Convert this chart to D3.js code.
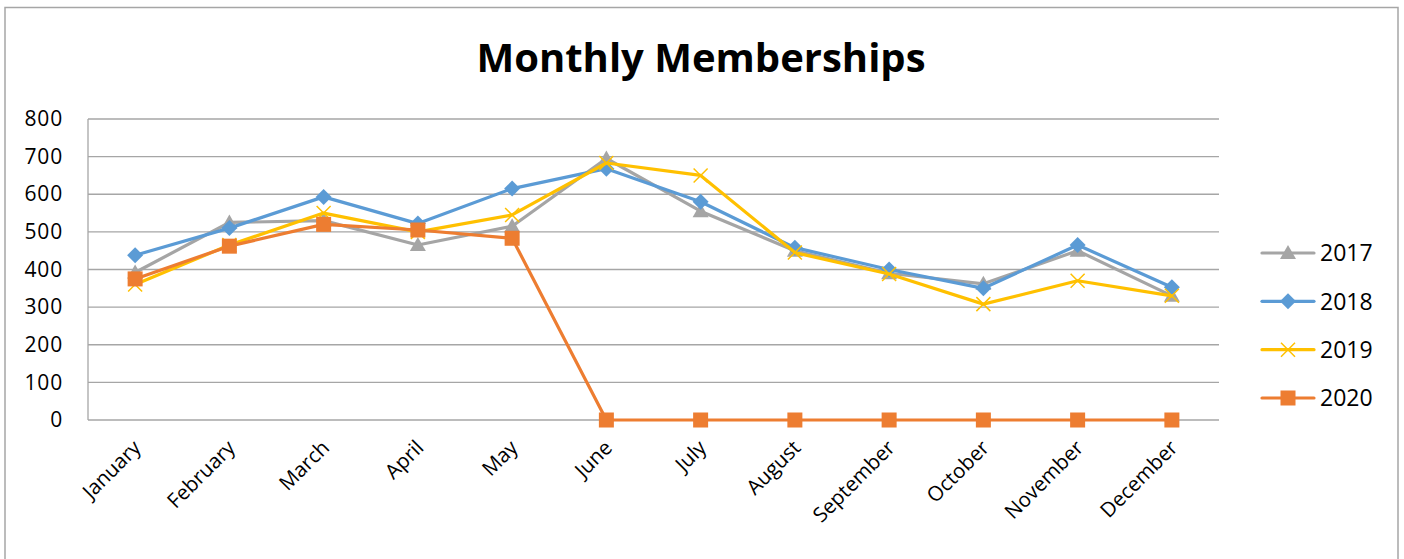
<!DOCTYPE html>
<html>
<head>
<meta charset="utf-8">
<script src="https://cdn.jsdelivr.net/npm/d3@7"></script>
<style>
  html, body { margin: 0; padding: 0; background: #fff; }
  svg { display: block; font-family: "Open Sans", "Noto Sans", sans-serif; }
</style>
</head>
<body>
<svg id="chart" width="1404" height="559"></svg>
<script>
const months = ["January","February","March","April","May","June","July","August","September","October","November","December"];
const seriesNames = ["2017","2018","2019","2020"];
const values2017 = [392, 525, 530, 465, 515, 695, 555, 450, 390, 362, 450, 330];
const values2018 = [438, 510, 593, 522, 615, 668, 580, 458, 400, 350, 465, 353];
const values2019 = [360, 465, 550, 500, 545, 683, 650, 445, 388, 308, 370, 330];
const values2020 = [375, 462, 520, 505, 483, 0, 0, 0, 0, 0, 0, 0];
const yTicks = [0, 100, 200, 300, 400, 500, 600, 700, 800];

const colors = {"2017": "#A5A5A5", "2018": "#5B9BD5", "2019": "#FFC000", "2020": "#ED7D31"};
const markers = {"2017": "triangle", "2018": "diamond", "2019": "cross", "2020": "square"};
const series = [
  {name: "2017", values: values2017},
  {name: "2018", values: values2018},
  {name: "2019", values: values2019},
  {name: "2020", values: values2020}
];

const svg = d3.select("#chart");
const plot = {left: 88, right: 1219, top: 119, bottom: 420};

// outer border
svg.append("rect").attr("x", 5).attr("y", 7.5).attr("width", 1393).attr("height", 560)
  .attr("fill", "#fff").attr("stroke", "#a6a6a6").attr("stroke-width", 1.5);

// title
svg.append("text").attr("x", 701).attr("y", 72).attr("text-anchor", "middle")
  .attr("font-size", 40).attr("font-weight", "bold").attr("fill", "#000")
  .text("Monthly Memberships");

const x = d3.scaleBand().domain(months).range([plot.left, plot.right]);
const y = d3.scaleLinear().domain([0, 800]).range([plot.bottom, plot.top]);

// gridlines
svg.append("g").selectAll("line").data(yTicks).join("line")
  .attr("x1", plot.left).attr("x2", plot.right)
  .attr("y1", d => y(d)).attr("y2", d => y(d))
  .attr("stroke", "#a6a6a6").attr("stroke-width", 1.3);
// left axis line
svg.append("line").attr("x1", plot.left).attr("x2", plot.left)
  .attr("y1", plot.top).attr("y2", plot.bottom)
  .attr("stroke", "#a6a6a6").attr("stroke-width", 1.3);

// y axis labels
const yAxis = d3.axisLeft(y).tickValues(yTicks).tickSize(0).tickPadding(0).tickFormat(d3.format("d"));
const gy = svg.append("g").attr("transform", `translate(${plot.left - 25},0)`).call(yAxis);
gy.select(".domain").remove();
gy.selectAll("text").attr("font-size", 21).attr("letter-spacing", 0.8).attr("fill", "#000")
  .attr("font-family", '"Open Sans", sans-serif');

// x axis labels
const xAxis = d3.axisBottom(x).tickSize(0).tickPadding(0);
const gx = svg.append("g").attr("transform", `translate(0,${plot.bottom})`).call(xAxis);
gx.select(".domain").remove();
gx.selectAll("text")
  .attr("font-size", 20.5).attr("fill", "#000")
  .attr("font-family", '"Open Sans", sans-serif')
  .attr("text-anchor", "end")
  .attr("dy", null)
  .attr("transform", "translate(7,29) rotate(-45)");

const cx = d => x(d) + x.bandwidth() / 2;

function drawMarker(g, type, color) {
  if (type === "triangle") {
    g.append("path").attr("d", "M0,-8 L8,6 L-8,6 Z").attr("fill", color);
  } else if (type === "diamond") {
    g.append("path").attr("d", "M0,-8 L8,0 L0,8 L-8,0 Z").attr("fill", color);
  } else if (type === "square") {
    g.append("rect").attr("x", -7.5).attr("y", -7.5).attr("width", 15).attr("height", 15).attr("fill", color);
  } else if (type === "cross") {
    g.append("path").attr("d", "M-7,-7 L7,7 M-7,7 L7,-7").attr("stroke", color).attr("stroke-width", 1.5).attr("fill", "none");
  }
}

const line = d3.line().x((d, i) => cx(months[i])).y(d => y(d));

series.forEach(s => {
  const g = svg.append("g");
  g.append("path").datum(s.values).attr("d", line)
    .attr("fill", "none").attr("stroke", colors[s.name]).attr("stroke-width", 3.2)
    .attr("stroke-linejoin", "round").attr("stroke-linecap", "round");
  s.values.forEach((v, i) => {
    const mg = g.append("g").attr("transform", `translate(${cx(months[i])},${y(v)})`);
    drawMarker(mg, markers[s.name], colors[s.name]);
  });
});

// legend
const legendY = d3.scalePoint().domain(seriesNames).range([253, 398]);
seriesNames.forEach(n => {
  const ly = legendY(n);
  svg.append("line").attr("x1", 1262).attr("x2", 1314).attr("y1", ly).attr("y2", ly)
    .attr("stroke", colors[n]).attr("stroke-width", 3.2).attr("stroke-linecap", "round");
  const mg = svg.append("g").attr("transform", `translate(1288,${ly})`);
  drawMarker(mg, markers[n], colors[n]);
  svg.append("text").attr("x", 1320).attr("y", ly).attr("dy", "0.36em")
    .attr("font-size", 23).attr("fill", "#000").text(n);
});
</script>
</body>
</html>
